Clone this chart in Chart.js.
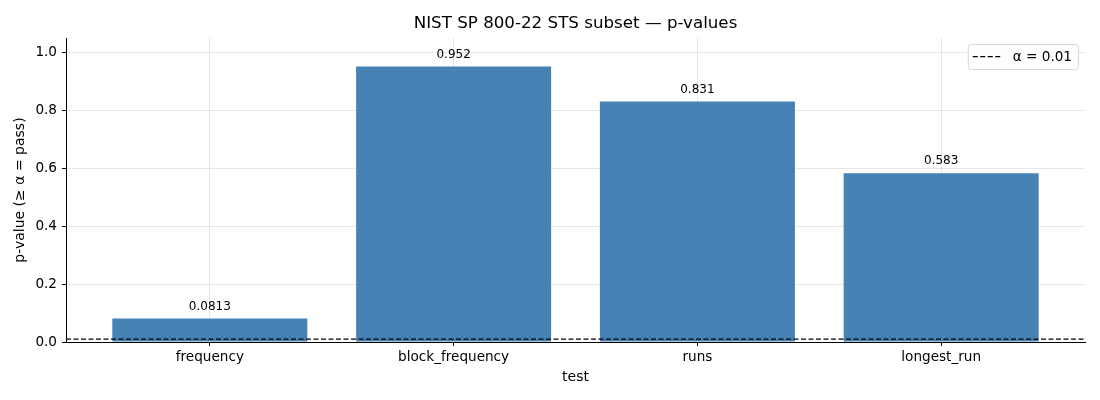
<!DOCTYPE html>
<html>
<head>
<meta charset="utf-8">
<script src="https://cdn.jsdelivr.net/npm/chart.js@4/dist/chart.umd.min.js"></script>
<style>
  html, body { margin: 0; padding: 0; background: #fff; }
  #wrap { width: 1100px; height: 400px; }
</style>
</head>
<body>
<div id="wrap"><canvas id="graph"></canvas></div>
<script>
/*************************** data ***************************/
const tests = ['frequency', 'block_frequency', 'runs', 'longest_run'];
const pValues = [0.0813, 0.952, 0.831, 0.583];
const alpha = 0.01;
const yTicks = [0, 0.2, 0.4, 0.6, 0.8, 1.0];

// matplotlib-like x limits (bars of width 0.8 plus 5% margin)
const xMin = -0.59;
const xMax = tests.length - 1 + 0.59;

const font = "'DejaVu Sans', sans-serif";
const gridColor = 'rgba(176,176,176,0.3)';

/********************* value labels *********************/
const valueLabels = {
    id: 'valueLabels',
    afterDatasetsDraw(chart) {
        const ctx = chart.ctx;
        const meta = chart.getDatasetMeta(0);
        ctx.save();
        ctx.font = '12px ' + font;
        ctx.fillStyle = '#000';
        ctx.textAlign = 'center';
        ctx.textBaseline = 'bottom';
        meta.data.forEach((bar, i) => {
            ctx.fillText(pValues[i].toPrecision(3), bar.x, bar.y - 6);
        });
        ctx.restore();
    }
};

/************ legend box, top right inside the axes ************/
const legendBox = {
    id: 'legendBox',
    afterDraw(chart) {
        const ds = chart.data.datasets[1];
        const area = chart.chartArea;
        const ctx = chart.ctx;
        ctx.save();
        ctx.font = '13.6px ' + font;
        const tw = ctx.measureText(ds.label).width;
        const w = 5 + 27 + 13 + tw + 6;
        const h = 25;
        const x = area.right - 7 - w;
        const y = area.top + 6;
        ctx.beginPath();
        ctx.roundRect(x + 0.5, y + 0.5, w, h, 3);
        ctx.fillStyle = 'rgba(255,255,255,0.8)';
        ctx.fill();
        ctx.strokeStyle = '#d6d6d6';
        ctx.lineWidth = 1;
        ctx.stroke();
        // line sample
        ctx.beginPath();
        ctx.setLineDash(ds.borderDash);
        ctx.strokeStyle = ds.borderColor;
        ctx.lineWidth = ds.borderWidth;
        ctx.moveTo(x + 5, y + h / 2);
        ctx.lineTo(x + 5 + 28, y + h / 2);
        ctx.stroke();
        ctx.setLineDash([]);
        ctx.fillStyle = '#000';
        ctx.textBaseline = 'middle';
        ctx.fillText(ds.label, x + 5 + 27 + 13, y + h / 2 + 1);
        ctx.restore();
    }
};

/*********************** draw chart ***********************/
const ctx = document.getElementById('graph');
const chart = new Chart(ctx, {
    data: {
        datasets: [{
            type: 'bar',
            label: 'p-value',
            data: pValues.map((v, i) => ({ x: i, y: v })),
            backgroundColor: '#4682b4',
            borderWidth: 0,
            barPercentage: 0.8,
            categoryPercentage: 1.0,
            order: 1
        }, {
            type: 'line',
            label: 'α = ' + alpha,
            data: [{ x: xMin, y: alpha }, { x: xMax, y: alpha }],
            borderColor: '#000',
            borderWidth: 1.2,
            borderDash: [5, 2.5],
            pointRadius: 0,
            fill: false,
            order: 0
        }]
    },
    options: {
        responsive: true,
        maintainAspectRatio: false,
        animation: false,
        layout: { padding: { left: 0, right: 15, top: 0, bottom: 0 } },
        plugins: {
            tooltip: { enabled: false },
            legend: { display: false },
            title: {
                display: true,
                fullSize: false,
                text: 'NIST SP 800-22 STS subset — p-values',
                color: '#000',
                font: { family: font, size: 16.7, weight: 'normal' },
                padding: { top: 14, bottom: 4 }
            }
        },
        scales: {
            x: {
                type: 'linear',
                min: xMin,
                max: xMax,
                offset: false,
                z: 1,
                afterBuildTicks: s => { s.ticks = tests.map((t, i) => ({ value: i })); },
                afterFit: s => { s.height = 58; },
                ticks: {
                    color: '#000',
                    font: { family: font, size: 13.6 },
                    padding: 3,
                    callback: v => tests[v] ?? ''
                },
                grid: { offset: false, color: gridColor, tickColor: '#000', tickLength: 4 },
                border: { color: '#000', width: 1 },
                title: {
                    display: true,
                    text: 'test',
                    color: '#000',
                    font: { family: font, size: 14 },
                    padding: { top: 0, bottom: 14 }
                }
            },
            y: {
                min: 0,
                max: 1.05,
                z: 1,
                afterBuildTicks: s => { s.ticks = yTicks.map(v => ({ value: v })); },
                afterFit: s => { s.width = 66; },
                ticks: {
                    color: '#000',
                    font: { family: font, size: 13.6 },
                    padding: 5,
                    callback: v => v.toFixed(1)
                },
                grid: { color: gridColor, tickColor: '#000', tickLength: 4 },
                border: { color: '#000', width: 1 },
                title: {
                    display: true,
                    text: 'p-value (≥ α = pass)',
                    color: '#000',
                    font: { family: font, size: 14 },
                    padding: { top: 12, bottom: 0 }
                }
            }
        }
    },
    plugins: [valueLabels, legendBox]
});
</script>
</body>
</html>
